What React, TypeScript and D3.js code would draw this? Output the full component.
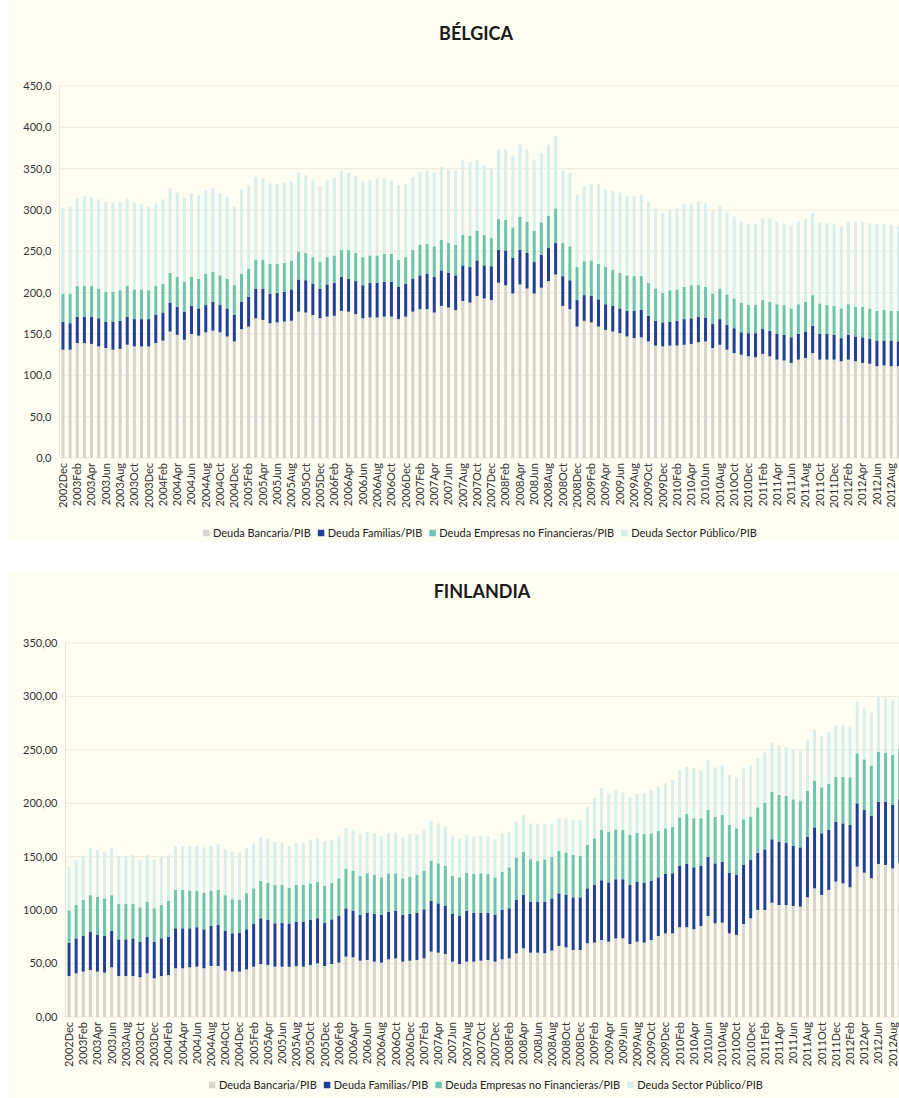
import React from 'react';
import * as d3 from 'd3';

// Monthly periods, 2002Dec .. 2012Sep (the last bar is cut by the right edge)
const PERIODS = (
  '2002Dec ' +
  '2003Jan 2003Feb 2003Mar 2003Apr 2003May 2003Jun 2003Jul 2003Aug 2003Sep 2003Oct 2003Nov 2003Dec ' +
  '2004Jan 2004Feb 2004Mar 2004Apr 2004May 2004Jun 2004Jul 2004Aug 2004Sep 2004Oct 2004Nov 2004Dec ' +
  '2005Jan 2005Feb 2005Mar 2005Apr 2005May 2005Jun 2005Jul 2005Aug 2005Sep 2005Oct 2005Nov 2005Dec ' +
  '2006Jan 2006Feb 2006Mar 2006Apr 2006May 2006Jun 2006Jul 2006Aug 2006Sep 2006Oct 2006Nov 2006Dec ' +
  '2007Jan 2007Feb 2007Mar 2007Apr 2007May 2007Jun 2007Jul 2007Aug 2007Sep 2007Oct 2007Nov 2007Dec ' +
  '2008Jan 2008Feb 2008Mar 2008Apr 2008May 2008Jun 2008Jul 2008Aug 2008Sep 2008Oct 2008Nov 2008Dec ' +
  '2009Jan 2009Feb 2009Mar 2009Apr 2009May 2009Jun 2009Jul 2009Aug 2009Sep 2009Oct 2009Nov 2009Dec ' +
  '2010Jan 2010Feb 2010Mar 2010Apr 2010May 2010Jun 2010Jul 2010Aug 2010Sep 2010Oct 2010Nov 2010Dec ' +
  '2011Jan 2011Feb 2011Mar 2011Apr 2011May 2011Jun 2011Jul 2011Aug 2011Sep 2011Oct 2011Nov 2011Dec ' +
  '2012Jan 2012Feb 2012Mar 2012Apr 2012May 2012Jun 2012Jul 2012Aug 2012Sep'
).split(' ');

// Bélgica
const BEL_BANCARIA = [
  131, 131, 139, 139, 138, 135, 133, 131, 132, 137,
  135, 135, 135, 139, 142, 153, 149, 143, 150, 148,
  152, 154, 152, 147, 141, 156, 159, 169, 167, 163,
  164, 165, 166, 177, 176, 173, 169, 171, 172, 178,
  177, 174, 169, 170, 170, 171, 171, 168, 171, 177,
  180, 180, 176, 184, 182, 179, 190, 188, 196, 193,
  191, 212, 209, 199, 210, 205, 199, 206, 214, 222,
  184, 180, 159, 166, 164, 159, 155, 153, 151, 147,
  145, 146, 141, 136, 135, 136, 136, 137, 138, 140,
  141, 133, 137, 131, 127, 125, 123, 122, 126, 123,
  119, 118, 115, 119, 121, 127, 119, 119, 119, 117,
  119, 117, 115, 114, 111, 112, 111, 111,
];
const BEL_FAMILIAS = [
  34, 32, 32, 32, 33, 34, 32, 34, 34, 34,
  33, 33, 33, 34, 34, 35, 34, 34, 34, 33,
  33, 35, 33, 34, 32, 33, 36, 36, 38, 36,
  36, 36, 38, 39, 39, 38, 36, 39, 40, 41,
  40, 40, 40, 42, 42, 42, 42, 39, 40, 40,
  41, 43, 43, 43, 42, 42, 43, 43, 43, 40,
  41, 40, 42, 43, 42, 43, 38, 40, 40, 38,
  36, 35, 32, 31, 32, 33, 31, 31, 30, 31,
  33, 33, 31, 30, 29, 29, 30, 31, 31, 31,
  29, 29, 31, 30, 30, 27, 28, 29, 30, 31,
  31, 31, 31, 31, 32, 33, 31, 31, 30, 28,
  30, 30, 31, 30, 31, 30, 31, 30,
];
const BEL_EMPRESAS = [
  34, 36, 37, 37, 37, 36, 36, 36, 37, 37,
  36, 36, 35, 35, 35, 36, 36, 36, 35, 36,
  38, 36, 36, 36, 36, 34, 34, 35, 35, 36,
  35, 35, 35, 34, 33, 32, 32, 33, 33, 33,
  35, 34, 34, 33, 33, 34, 34, 33, 32, 35,
  37, 36, 37, 37, 36, 37, 37, 38, 36, 37,
  34, 37, 37, 37, 40, 38, 38, 39, 39, 42,
  40, 41, 40, 41, 43, 43, 45, 44, 43, 43,
  42, 41, 40, 39, 36, 38, 38, 39, 40, 38,
  37, 37, 37, 37, 36, 36, 34, 34, 35, 35,
  36, 36, 35, 36, 36, 37, 37, 35, 35, 36,
  37, 36, 37, 37, 36, 37, 36, 37,
];
const BEL_PUBLICO = [
  103, 105, 106, 109, 108, 108, 109, 108, 107, 106,
  105, 103, 101, 100, 102, 102, 102, 102, 101, 101,
  101, 101, 99, 99, 95, 102, 101, 100, 98, 97,
  97, 97, 96, 95, 94, 93, 92, 93, 94, 96,
  93, 93, 92, 91, 93, 91, 89, 90, 88, 88,
  88, 89, 89, 88, 89, 90, 90, 89, 86, 84,
  84, 84, 85, 87, 87, 87, 85, 84, 86, 87,
  88, 89, 87, 91, 93, 97, 94, 95, 97, 96,
  97, 98, 98, 97, 96, 97, 98, 100, 99, 101,
  101, 100, 99, 99, 99, 98, 98, 98, 99, 100,
  100, 99, 100, 100, 100, 99, 98, 99, 99, 99,
  100, 103, 103, 103, 105, 104, 104, 102,
];

// Finlandia
const FIN_BANCARIA = [
  38.4, 40.9, 42.5, 44.0, 42.5, 41.5, 46.5, 38.4, 38.4, 38.4,
  37.2, 40.9, 36.2, 38.4, 39.3, 45.6, 45.6, 46.5, 47.1, 45.6,
  47.8, 47.8, 43.4, 42.5, 42.5, 44.6, 47.1, 49.6, 48.7, 47.1,
  47.1, 47.0, 47.5, 47.1, 48.7, 50.2, 47.7, 49.6, 50.9, 56.5,
  55.9, 52.7, 53.4, 51.8, 50.9, 54.0, 54.9, 51.8, 52.7, 53.4,
  54.9, 61.2, 60.2, 59.0, 51.8, 49.6, 51.8, 51.8, 52.7, 53.4,
  51.8, 54.0, 54.9, 59.6, 64.3, 60.2, 60.2, 59.6, 62.1, 66.5,
  65.2, 62.7, 62.7, 69.0, 69.6, 72.0, 70.5, 73.6, 73.6, 68.3,
  70.5, 69.6, 72.1, 75.8, 78.3, 78.3, 84.0, 84.0, 82.1, 85.2,
  94.5, 87.7, 88.3, 78.3, 76.8, 87.0, 92.4, 100.2, 100.2, 107.0,
  104.8, 104.8, 103.9, 103.3, 112.0, 120.4, 114.2, 118.9, 126.7, 125.1,
  121.4, 140.7, 135.1, 129.8, 143.2, 142.3, 139.1, 144.5,
];
const FIN_FAMILIAS = [
  31.2, 32.7, 33.3, 36.0, 34.3, 34.3, 34.3, 34.3, 34.3, 35.2,
  33.3, 34.3, 34.3, 35.2, 35.9, 37.4, 37.4, 36.5, 36.9, 36.5,
  37.4, 38.3, 37.4, 35.8, 36.5, 37.5, 39.9, 42.8, 42.1, 40.6,
  41.2, 40.5, 41.7, 42.1, 42.1, 42.2, 40.6, 41.8, 43.6, 45.2,
  43.6, 42.8, 44.3, 44.6, 44.6, 44.6, 44.6, 43.7, 43.7, 44.3,
  45.9, 47.7, 46.2, 44.9, 44.6, 44.9, 47.7, 45.9, 45.0, 44.3,
  43.7, 46.2, 46.8, 49.9, 49.9, 47.8, 47.8, 48.4, 48.9, 49.2,
  49.0, 49.3, 49.3, 51.4, 53.9, 56.0, 55.5, 55.3, 55.3, 55.2,
  56.2, 56.1, 55.5, 54.9, 55.6, 56.2, 57.3, 59.2, 58.0, 56.1,
  55.5, 56.1, 57.1, 56.8, 56.1, 55.3, 54.6, 53.6, 56.7, 59.3,
  59.3, 58.4, 56.1, 55.5, 56.8, 57.1, 57.7, 56.1, 56.1, 56.1,
  58.3, 59.3, 58.6, 58.3, 58.3, 59.2, 59.3, 59.2,
];
const FIN_EMPRESAS = [
  29.9, 31.4, 33.7, 34.0, 35.8, 35.2, 33.2, 33.1, 33.1, 32.2,
  32.1, 32.8, 31.2, 31.4, 33.7, 35.9, 35.9, 35.3, 34.3, 34.3,
  33.1, 32.8, 33.2, 31.9, 30.5, 33.7, 33.4, 35.2, 34.9, 35.8,
  35.2, 33.5, 34.3, 34.3, 34.2, 34.3, 34.3, 34.3, 35.3, 37.4,
  37.5, 36.5, 36.8, 36.5, 35.2, 35.9, 35.0, 34.3, 34.9, 35.2,
  36.2, 37.4, 37.4, 37.4, 35.6, 36.2, 35.6, 36.1, 36.8, 36.1,
  35.2, 35.8, 38.4, 39.9, 40.5, 39.6, 38.3, 39.6, 39.0, 40.0,
  39.6, 39.6, 38.7, 40.6, 43.7, 47.0, 47.5, 46.7, 46.1, 46.8,
  45.8, 45.6, 44.3, 43.7, 42.7, 43.6, 45.6, 46.8, 45.9, 44.7,
  43.7, 43.7, 43.6, 44.6, 43.7, 42.7, 40.5, 42.4, 43.7, 44.6,
  43.7, 43.6, 43.7, 43.7, 43.0, 43.7, 43.1, 43.0, 42.1, 43.7,
  44.6, 46.8, 47.4, 46.8, 46.8, 45.9, 46.8, 47.7,
];
const FIN_PUBLICO = [
  41.2, 42.0, 41.2, 44.0, 43.7, 43.7, 44.8, 44.9, 44.9, 45.8,
  44.4, 43.6, 45.3, 45.0, 42.7, 41.1, 41.1, 41.7, 41.7, 42.4,
  41.7, 43.1, 43.0, 44.5, 44.3, 42.2, 42.1, 40.6, 41.5, 40.6,
  39.7, 39.0, 39.5, 39.5, 40.6, 40.5, 41.5, 39.9, 39.0, 37.5,
  38.0, 39.9, 38.9, 39.0, 38.7, 37.4, 38.0, 38.3, 40.0, 38.4,
  38.6, 37.4, 37.4, 36.8, 36.8, 36.5, 35.2, 35.0, 34.9, 35.0,
  35.6, 35.3, 33.3, 33.4, 34.3, 33.6, 34.3, 33.0, 31.2, 30.2,
  31.2, 32.8, 33.7, 35.8, 37.4, 39.0, 35.5, 36.4, 35.0, 35.7,
  36.2, 38.0, 40.5, 41.2, 42.1, 43.7, 44.3, 44.3, 46.7, 44.5,
  46.8, 46.2, 46.9, 46.8, 47.7, 47.7, 47.4, 45.8, 46.8, 45.8,
  45.8, 45.6, 46.8, 46.7, 48.1, 47.4, 48.0, 49.0, 48.4, 48.4,
  46.8, 48.3, 47.8, 49.9, 51.5, 51.8, 50.8, 47.8,
];

const SERIES = [
  { key: 'bancaria', name: 'Deuda Bancaria/PIB', color: '#d7d4ce' },
  { key: 'familias', name: 'Deuda Familias/PIB', color: '#213f98' },
  { key: 'empresas', name: 'Deuda Empresas no Financieras/PIB', color: '#6cc4b2' },
  { key: 'publico', name: 'Deuda Sector Público/PIB', color: '#d9efef' },
];

const FONT = 'Lato, "Open Sans", sans-serif';

interface PanelConfig {
  title: string;
  values: number[][];
  yMax: number;
  decimals: number;
  top: number;
  height: number;
  left: number;
  right: number;
  y0: number;
  yTop: number;
  titleY: number;
  legendY: number;
  legendX: number;
}

const PANELS: PanelConfig[] = [
  {
    title: 'BÉLGICA',
    values: [BEL_BANCARIA, BEL_FAMILIAS, BEL_EMPRESAS, BEL_PUBLICO],
    yMax: 450, decimals: 1,
    top: 0, height: 542,
    left: 59.4, right: 901.9, y0: 458, yTop: 86,
    titleY: 40, legendY: 533, legendX: 480,
  },
  {
    title: 'FINLANDIA',
    values: [FIN_BANCARIA, FIN_FAMILIAS, FIN_EMPRESAS, FIN_PUBLICO],
    yMax: 350, decimals: 2,
    top: 570, height: 528,
    left: 65.5, right: 903.3, y0: 1017, yTop: 643,
    titleY: 598, legendY: 1085, legendX: 486,
  },
];

let measureCtx: CanvasRenderingContext2D | null = null;
const textWidth = (text: string, font: string) => {
  if (!measureCtx) measureCtx = document.createElement('canvas').getContext('2d');
  if (!measureCtx) return text.length * 5.5;
  measureCtx.font = font;
  return measureCtx.measureText(text).width;
};

function Panel({ cfg }: { cfg: PanelConfig }) {
  const x = d3.scaleBand<string>()
    .domain(PERIODS)
    .range([cfg.left, cfg.right])
    .paddingInner(0.58)
    .paddingOuter(0.29);

  const y = d3.scaleLinear().domain([0, cfg.yMax]).range([cfg.y0, cfg.yTop]);
  const ticks = d3.range(0, cfg.yMax + 1, 50);
  const fmt = (v: number) => d3.format(`.${cfg.decimals}f`)(v).replace('.', ',');

  // rows for d3.stack
  const rows = PERIODS.map((p, i) => {
    const row: Record<string, any> = { period: p };
    SERIES.forEach((s, k) => { row[s.key] = cfg.values[k][i]; });
    return row;
  });
  const stacked = d3.stack<Record<string, any>>().keys(SERIES.map(s => s.key))(rows);

  // legend layout
  const legendFont = `11px ${FONT}`;
  const sq = 6.5, sqGap = 3.5, itemGap = 7;
  const widths = SERIES.map(s => sq + sqGap + textWidth(s.name, legendFont));
  const total = d3.sum(widths) + itemGap * (SERIES.length - 1);
  let lx = cfg.legendX - total / 2;
  const legendItems = SERIES.map((s, k) => {
    const item = { ...s, x: lx };
    lx += widths[k] + itemGap;
    return item;
  });

  return (
    <g>
      <rect x={8} y={cfg.top} width={891} height={cfg.height} fill="#fefdf1" />
      <text x={cfg.legendX - 4} y={cfg.titleY} textAnchor="middle" fontFamily={FONT}
        fontWeight="bold" fontSize={18} fill="#1a1a1a">{cfg.title}</text>

      {ticks.map(t => (
        <g key={t}>
          <line x1={cfg.left} x2={cfg.right} y1={y(t)} y2={y(t)} stroke="#eeebe0" strokeWidth={1} />
          <text x={cfg.left - 8} y={y(t)} dy="0.35em" textAnchor="end" fontFamily={FONT}
            fontSize={11} fill="#333">{fmt(t)}</text>
        </g>
      ))}
      <line x1={cfg.left} x2={cfg.left} y1={cfg.yTop} y2={cfg.y0} stroke="#e6e3d6" />

      {stacked.map((layer, k) => (
        <g key={layer.key} fill={SERIES[k].color}>
          {layer.map((d, i) => (
            <rect key={i} x={x(PERIODS[i])} width={x.bandwidth()}
              y={y(d[1])} height={Math.max(0, y(d[0]) - y(d[1]))} />
          ))}
        </g>
      ))}

      {PERIODS.map((p, i) => i % 2 === 0 ? (
        <text key={p} transform={`translate(${(x(p) as number) + x.bandwidth() / 2},${cfg.y0 + 5}) rotate(-90)`}
          dy="0.35em" textAnchor="end" fontFamily={FONT} fontSize={11} fill="#333">{p}</text>
      ) : null)}

      {legendItems.map(it => (
        <g key={it.key}>
          <rect x={it.x} y={cfg.legendY - sq / 2} width={sq} height={sq} fill={it.color} />
          <text x={it.x + sq + sqGap} y={cfg.legendY} dy="0.35em" fontFamily={FONT}
            fontSize={11} fill="#222">{it.name}</text>
        </g>
      ))}
    </g>
  );
}

export default function App() {
  return (
    <div style={{ position: 'absolute', left: 0, top: 0, width: 899, height: 1098, background: '#fff' }}>
      <svg width={899} height={1098} style={{ display: 'block' }}>
        {PANELS.map(cfg => <Panel key={cfg.title} cfg={cfg} />)}
      </svg>
    </div>
  );
}
